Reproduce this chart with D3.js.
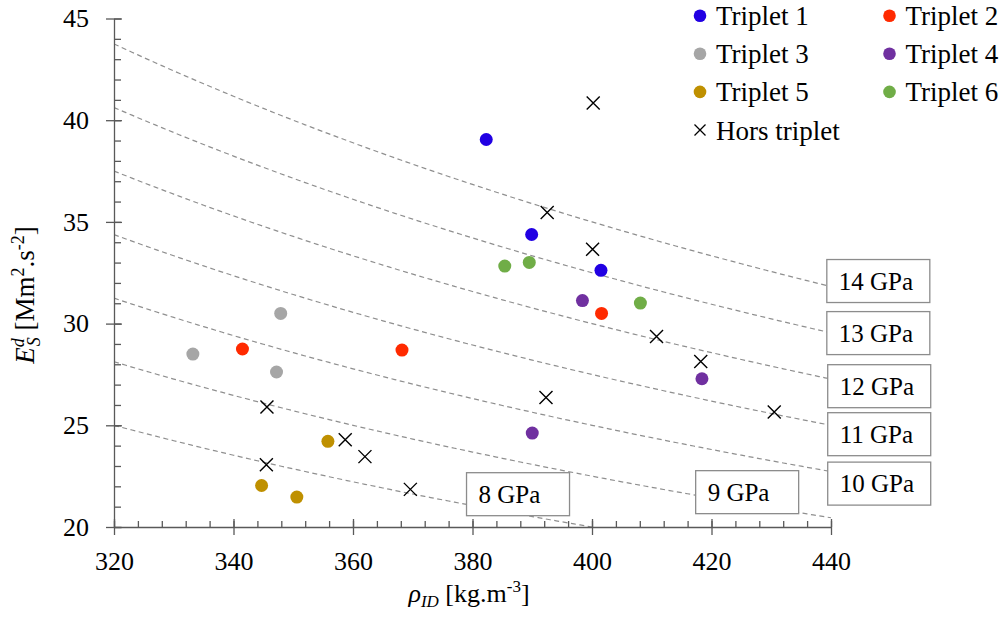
<!DOCTYPE html>
<html>
<head>
<meta charset="utf-8">
<script src="https://cdn.jsdelivr.net/npm/d3@7/dist/d3.min.js"></script>
<style>
  body { margin: 0; background: #fff; }
  svg text { font-family: "Liberation Serif", "Times New Roman", serif; fill: #000; }
</style>
</head>
<body>
<svg width="1008" height="621"></svg>
<script>
// groups of the legend, in legend order
var groups = ['Triplet 1', 'Triplet 2', 'Triplet 3', 'Triplet 4', 'Triplet 5', 'Triplet 6', 'Hors triplet'];
var groupColors = ['#2100e3', '#ff2a00', '#a6a6a6', '#7030a0', '#bf9000', '#70ad47', '#000000'];

// density rho_ID [kg.m-3] and specific modulus E [Mm2.s-2], one array per group
var rho1 = [382.3, 389.9, 401.5];
var e1 = [39.05, 34.38, 32.62];
var rho2 = [341.5, 368.2, 401.6];
var e2 = [28.75, 28.70, 30.50];
var rho3 = [347.9, 333.2, 347.2];
var e3 = [30.50, 28.50, 27.62];
var rho4 = [398.4, 418.4, 390.0];
var e4 = [31.13, 27.29, 24.62];
var rho5 = [355.8, 344.7, 350.6];
var e5 = [24.21, 22.04, 21.47];
var rho6 = [385.4, 389.5, 408.1];
var e6 = [32.83, 33.01, 31.01];
var rhoHors = [400.2, 392.5, 400.1, 410.8, 418.2, 430.5, 392.3, 345.6, 358.7, 362.0, 345.5, 369.6];
var eHors = [40.85, 35.46, 33.65, 29.36, 28.14, 25.65, 26.37, 25.90, 24.29, 23.46, 23.06, 21.85];

// iso-modulus curves (GPa) and where their boxed label sits (rho, E of box top-left)
var moduli = [8, 9, 10, 11, 12, 13, 14];
var labelRho = [379.0, 417.35, 439.45, 439.45, 439.45, 439.3, 439.3];
var labelE = [22.67, 22.77, 23.19, 25.62, 27.98, 30.59, 33.15];

var xTicks = [320, 340, 360, 380, 400, 420, 440];
var yTicks = [20, 25, 30, 35, 40, 45];

var svg = d3.select('svg');
var axisColor = '#595959';
var serif = '"Liberation Serif", "Times New Roman", serif';

var x = d3.scaleLinear().domain([320, 440]).range([114, 831]);
var y = d3.scaleLinear().domain([20, 45]).range([527, 18.5]);

var series = [
    { name: groups[0], rho: rho1, e: e1 },
    { name: groups[1], rho: rho2, e: e2 },
    { name: groups[2], rho: rho3, e: e3 },
    { name: groups[3], rho: rho4, e: e4 },
    { name: groups[4], rho: rho5, e: e5 },
    { name: groups[5], rho: rho6, e: e6 },
    { name: groups[6], rho: rhoHors, e: eHors }
];
var color = d3.scaleOrdinal().domain(groups).range(groupColors);

// clip for the dashed curves
svg.append('defs').append('clipPath').attr('id', 'plotClip')
    .append('rect')
    .attr('x', x(320)).attr('y', y(45))
    .attr('width', x(440) - x(320)).attr('height', y(20) - y(45));

// dashed iso-modulus curves E = M / rho
var rhoSteps = d3.range(320, 440.5, 1);
var curve = d3.line()
    .x(function(d) { return x(d.r); })
    .y(function(d) { return y(d.e); });

svg.append('g').attr('clip-path', 'url(#plotClip)')
    .selectAll('path')
    .data(moduli)
    .enter()
    .append('path')
    .attr('d', function(m) {
        return curve(rhoSteps.map(function(r) { return { r: r, e: m * 1000 / r }; }));
    })
    .attr('fill', 'none')
    .attr('stroke', '#8f8f8f')
    .attr('stroke-width', 1.2)
    .attr('stroke-dasharray', '5,3.5');

// axes: minor ticks inside, major ticks crossing
var xMinor = svg.append('g')
    .attr('transform', 'translate(0,' + y(20) + ')')
    .call(d3.axisBottom(x).tickValues(d3.range(320, 441, 4)).tickSize(-6).tickFormat(''));
xMinor.select('.domain').remove();

var xAxis = svg.append('g')
    .attr('transform', 'translate(0,' + y(20) + ')')
    .call(d3.axisBottom(x).tickValues(xTicks).tickSize(8).tickSizeOuter(0))
    .attr('font-family', serif)
    .attr('font-size', 26);
xAxis.selectAll('.tick line').attr('y1', -8);
xAxis.selectAll('.tick text')
    .attr('y', 43).attr('dy', 0);

var yMinor = svg.append('g')
    .attr('transform', 'translate(' + x(320) + ',0)')
    .call(d3.axisLeft(y).tickValues(d3.range(20, 46, 1)).tickSize(-7).tickFormat(''));
yMinor.select('.domain').remove();

var yAxis = svg.append('g')
    .attr('transform', 'translate(' + x(320) + ',0)')
    .call(d3.axisLeft(y).tickValues(yTicks).tickSize(8).tickSizeOuter(0))
    .attr('font-family', serif)
    .attr('font-size', 26);
yAxis.selectAll('.tick line').attr('x1', 8);
yAxis.selectAll('.tick text')
    .attr('x', -25);

svg.selectAll('.domain, .tick line')
    .attr('stroke', axisColor)
    .attr('stroke-width', 1.3);
svg.selectAll('.tick text').attr('fill', '#000');

// boxed curve labels
var labels = svg.append('g').selectAll('g')
    .data(moduli)
    .enter()
    .append('g')
    .attr('transform', function(m, i) {
        return 'translate(' + x(labelRho[i]) + ',' + y(labelE[i]) + ')';
    });
labels.append('rect')
    .attr('width', 103).attr('height', 43)
    .attr('fill', '#fff')
    .attr('stroke', '#8c8c8c')
    .attr('stroke-width', 1.3);
labels.append('text')
    .attr('x', 12).attr('y', 30)
    .style('font-size', '25px')
    .text(function(m) { return m + ' GPa'; });

// markers
var crossPath = function(s) {
    return 'M' + (-s) + ',' + (-s) + 'L' + s + ',' + s + 'M' + s + ',' + (-s) + 'L' + (-s) + ',' + s;
};

var points = svg.append('g');
series.forEach(function(s) {
    var pts = s.rho.map(function(r, i) { return { r: r, e: s.e[i] }; });
    if (s.name === 'Hors triplet') {
        points.selectAll('.hors')
            .data(pts)
            .enter()
            .append('path')
            .attr('class', 'hors')
            .attr('transform', function(d) { return 'translate(' + x(d.r) + ',' + y(d.e) + ')'; })
            .attr('d', crossPath(6.5))
            .attr('stroke', '#000')
            .attr('stroke-width', 1.4)
            .attr('fill', 'none');
    } else {
        points.selectAll('.p' + s.name.replace(' ', ''))
            .data(pts)
            .enter()
            .append('circle')
            .attr('cx', function(d) { return x(d.r); })
            .attr('cy', function(d) { return y(d.e); })
            .attr('r', 6.5)
            .attr('fill', color(s.name));
    }
});

// legend
var legend = svg.append('g').selectAll('g')
    .data(groups)
    .enter()
    .append('g')
    .attr('transform', function(d, i) {
        var col = i % 2, row = Math.floor(i / 2);
        return 'translate(' + (700 + col * 189.5) + ',' + (15.7 + row * 38.1) + ')';
    });
legend.each(function(d) {
    var g = d3.select(this);
    if (d === 'Hors triplet') {
        g.append('path').attr('d', crossPath(5.5))
            .attr('stroke', '#000').attr('stroke-width', 1.3).attr('fill', 'none');
    } else {
        g.append('circle').attr('r', 6.3).attr('fill', color(d));
    }
});
legend.append('text')
    .attr('x', 16).attr('y', 9.5)
    .style('font-size', '27px')
    .text(function(d) { return d; });

// axis titles
var xTitle = svg.append('text')
    .attr('x', 469).attr('y', 602)
    .attr('text-anchor', 'middle')
    .style('font-size', '26px');
xTitle.append('tspan').style('font-style', 'italic').text('ρ');
xTitle.append('tspan').style('font-style', 'italic').style('font-size', '17px')
    .attr('dy', 5).text('ID');
xTitle.append('tspan').attr('dy', -5).text(' [kg.m');
xTitle.append('tspan').style('font-size', '17px').attr('dy', -10).text('-3');
xTitle.append('tspan').attr('dy', 10).text(']');

var yTitle = svg.append('text')
    .attr('transform', 'translate(34,295) rotate(-90)')
    .attr('text-anchor', 'middle')
    .style('font-size', '27px');
yTitle.append('tspan').style('font-style', 'italic').text('E');
yTitle.append('tspan').style('font-style', 'italic').style('font-size', '18px')
    .attr('dy', -10).text('d');
yTitle.append('tspan').style('font-style', 'italic').style('font-size', '18px')
    .attr('dx', -8).attr('dy', 16).text('S');
yTitle.append('tspan').attr('dy', -6).text(' [Mm');
yTitle.append('tspan').style('font-size', '18px').attr('dy', -10).text('2');
yTitle.append('tspan').attr('dy', 10).text('.s');
yTitle.append('tspan').style('font-size', '18px').attr('dy', -10).text('-2');
yTitle.append('tspan').attr('dy', 10).text(']');
</script>
</body>
</html>
